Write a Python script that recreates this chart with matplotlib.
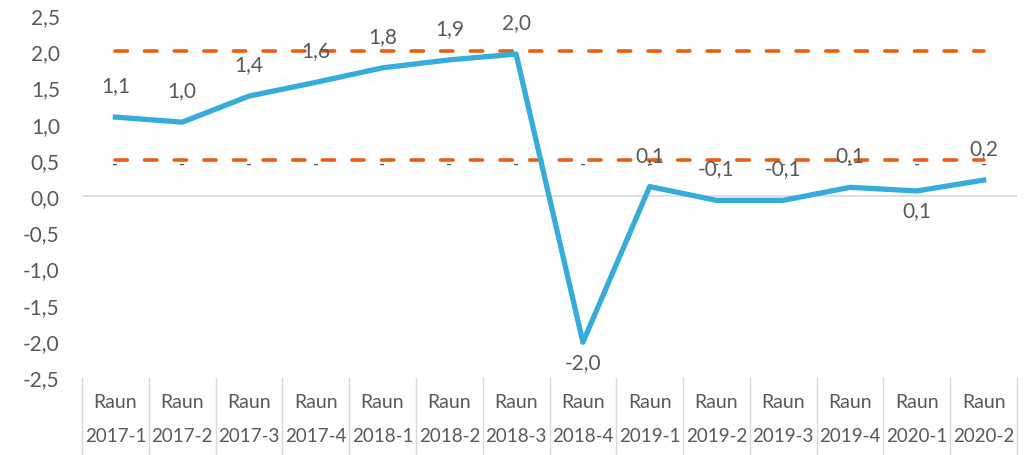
import matplotlib
matplotlib.use("Agg")
import matplotlib.pyplot as plt
from matplotlib.ticker import FixedLocator, FuncFormatter
import matplotlib.transforms as mtransforms

# chart data
quarters = ["2017-1", "2017-2", "2017-3", "2017-4", "2018-1", "2018-2", "2018-3",
            "2018-4", "2019-1", "2019-2", "2019-3", "2019-4", "2020-1", "2020-2"]
prefix = "Raun"
values = [1.09, 1.02, 1.38, 1.57, 1.77, 1.88, 1.96, -2.02, 0.13, -0.06, -0.06, 0.12, 0.07, 0.22]
upper_band = [2.0] * 14
lower_band = [0.5] * 14
label_below = [7, 12]

TEXT = "#595959"
GRID = "#D9D9D9"
BLUE = "#35ACD9"
ORANGE = "#E8600F"

plt.rcParams["font.family"] = ["Lato", "DejaVu Sans"]


def comma(v, pos=None):
    return f"{v:.1f}".replace(".", ",")


fig = plt.figure(figsize=(10.30, 4.56), dpi=100)
ax = fig.add_axes([82 / 1030, 1 - 378 / 456, (1017 - 82) / 1030, (378 - 16) / 456])

x = list(range(len(quarters)))

dash_kw = dict(color=ORANGE, lw=2.6, dash_capstyle="round", dashes=(3.4, 4.8), zorder=2)
ax.plot(x, upper_band, **dash_kw)
ax.plot(x, lower_band, **dash_kw)
ax.plot(x, values, color=BLUE, lw=3.8, solid_joinstyle="round", zorder=3)

# data labels
for i, v in enumerate(values):
    dy = -14 if i in label_below else 23
    ax.annotate(comma(v), (i, v), xytext=(0, dy), textcoords="offset points",
                ha="center", va="center", fontsize=15, color=TEXT, zorder=4)
for i, v in enumerate(lower_band):
    ax.annotate("-", (i, v), xytext=(0, -3), textcoords="offset points",
                ha="center", va="center", fontsize=12, color=TEXT, zorder=1)

ax.set_xlim(-0.5, len(quarters) - 0.5)
ax.set_ylim(-2.5, 2.5)
ax.set_yticks([-2.5, -2.0, -1.5, -1.0, -0.5, 0.0, 0.5, 1.0, 1.5, 2.0, 2.5])
ax.yaxis.set_major_formatter(FuncFormatter(comma))
ax.tick_params(axis="y", length=0, pad=16, labelsize=15, labelcolor=TEXT)

ax.axhline(0, color=GRID, lw=1.2, zorder=1)
for s in ax.spines.values():
    s.set_visible(False)

# category separators as long minor ticks
ax.set_xticks([])
ax.xaxis.set_minor_locator(FixedLocator([i - 0.5 for i in range(len(quarters) + 1)]))
ax.tick_params(axis="x", which="minor", length=58, width=1, color=GRID, direction="out")

trans = mtransforms.blended_transform_factory(ax.transData, ax.transAxes)
for i, q in enumerate(quarters):
    ax.text(i, -25 / 362, prefix, transform=trans, ha="center", va="center",
            fontsize=14, color=TEXT, clip_on=False)
    ax.text(i, -59 / 362, q, transform=trans, ha="center", va="center",
            fontsize=13.5, color=TEXT, clip_on=False)

fig.savefig("out.png", dpi=100)
